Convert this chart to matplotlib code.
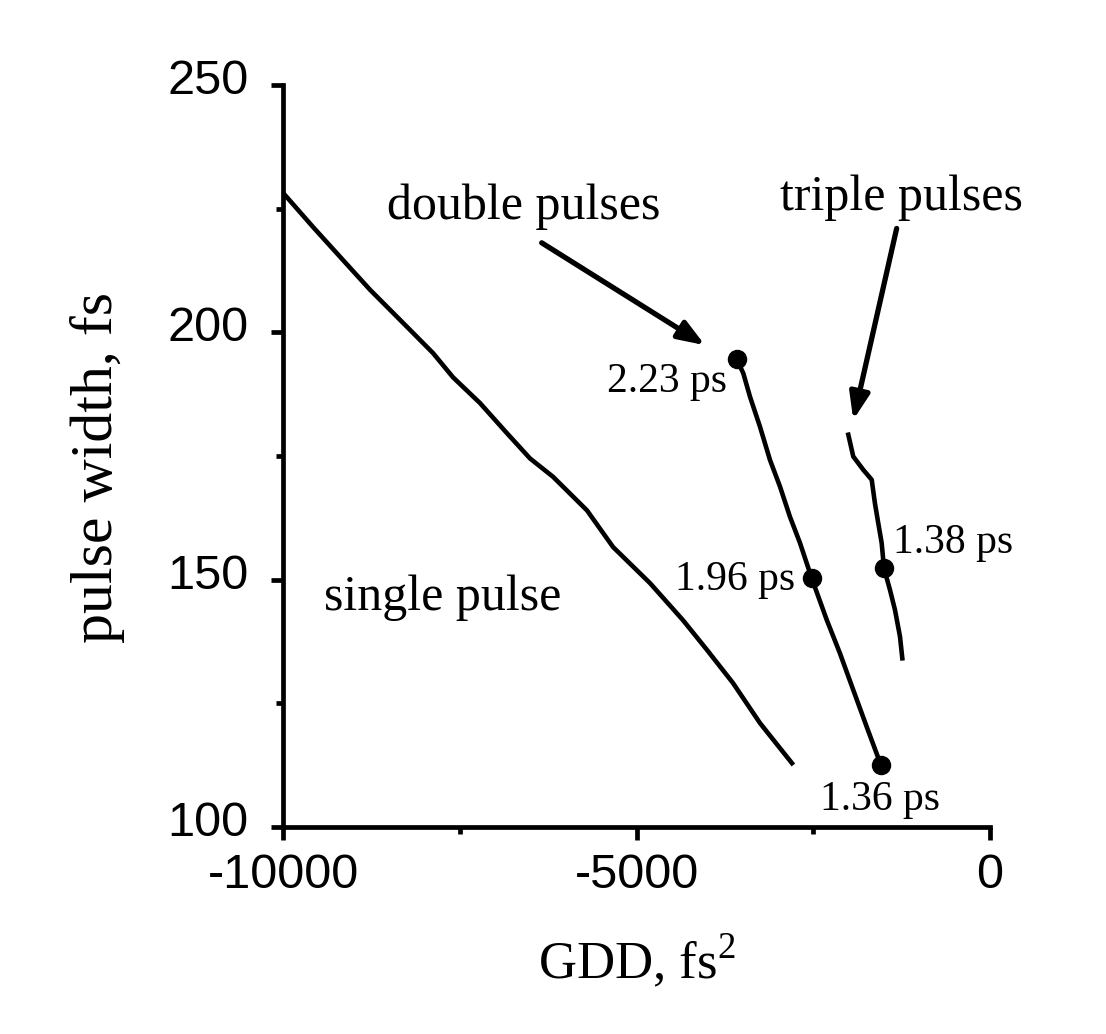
import matplotlib
matplotlib.use("Agg")
import matplotlib.pyplot as plt
import matplotlib.transforms as mtransforms
from matplotlib.ticker import MultipleLocator

plt.rcParams["mathtext.fontset"] = "custom"
plt.rcParams["mathtext.rm"] = "Liberation Serif"
plt.rcParams["axes.unicode_minus"] = False

# single pulse boundary
single_gdd = [-10000, -9576, -9151, -8769, -8246, -7878, -7595, -7214, -6832, -6506,
              -6181, -5700, -5332, -4809, -4342, -4003, -3635, -3253, -2801]
single_width = [228.2, 221.3, 214.6, 208.6, 201.1, 195.8, 190.9, 185.7, 179.6, 174.5,
                170.8, 164.0, 156.6, 149.3, 141.8, 135.8, 129.1, 121.0, 112.9]

# double pulses boundary
double_gdd = [-3583, -3489, -3395, -3253, -3112, -2970, -2829, -2687, -2522, -2310,
              -2122, -1934, -1745, -1542]
double_width = [194.6, 191.7, 187.0, 180.9, 174.2, 168.8, 162.7, 157.4, 150.3, 141.9,
                135.1, 127.7, 120.3, 112.5]

# triple pulses boundary
triple_gdd = [-2004, -1934, -1792, -1673, -1627, -1580, -1532, -1499, -1414, -1344,
              -1273, -1240]
triple_width = [179.3, 174.9, 172.2, 170.2, 165.4, 161.4, 157.4, 152.3, 147.9, 143.9,
                138.5, 134.1]

# marked points with pulse separation labels
dot_gdd = [-3583, -2522, -1542, -1499]
dot_width = [194.6, 150.3, 112.5, 152.3]
dot_labels = ["2.23 ps", "1.96 ps", "1.36 ps", "1.38 ps"]

serif = "Liberation Serif"
sans = "Liberation Sans"

fig = plt.figure(figsize=(11.06, 10.34), dpi=100)
ax = fig.add_axes([0.2559, 0.2002, 0.6392, 0.7176])

lw = 3.3
ax.plot(single_gdd, single_width, color="black", lw=lw)
ax.plot(double_gdd, double_width, color="black", lw=lw)
ax.plot(triple_gdd, triple_width, color="black", lw=lw)
ax.plot(dot_gdd, dot_width, "o", color="black", ms=13, ls="none")

# dot labels
ax.text(-3720, 190.0, dot_labels[0], ha="right", va="center", fontsize=30, family=serif)
ax.text(-2758, 149.9, dot_labels[1], ha="right", va="center", fontsize=30, family=serif)
ax.text(-1556, 105.5, dot_labels[2], ha="center", va="center", fontsize=30, family=serif)
ax.text(-1372, 157.4, dot_labels[3], ha="left", va="center", fontsize=30, family=serif)

# region labels
ax.text(-6591, 225.3, "double pulses", ha="center", va="center", fontsize=36, family=serif)
ax.text(-1259, 227.2, "triple pulses", ha="center", va="center", fontsize=36, family=serif)
ax.text(-7737, 146.3, "single pulse", ha="center", va="center", fontsize=36, family=serif)

arrow = dict(arrowstyle="-|>,head_length=1.6,head_width=0.6", color="black", lw=3.8,
             shrinkA=0, shrinkB=0)
ax.annotate("", xy=(-4031, 197.4), xytext=(-6341, 218.1), arrowprops=arrow)
ax.annotate("", xy=(-1934, 182.3), xytext=(-1320, 221.0), arrowprops=arrow)

ax.set_xlim(-10000, 0)
ax.set_ylim(100, 250)
ax.xaxis.set_major_locator(MultipleLocator(5000))
ax.xaxis.set_minor_locator(MultipleLocator(2500))
ax.yaxis.set_major_locator(MultipleLocator(50))
ax.yaxis.set_minor_locator(MultipleLocator(25))

for side in ["top", "right"]:
    ax.spines[side].set_visible(False)
for side in ["left", "bottom"]:
    ax.spines[side].set_linewidth(3.4)

ax.tick_params(which="major", direction="out", length=9, width=3.4)
ax.tick_params(which="minor", direction="out", length=5, width=3.4)
ax.tick_params(axis="x", which="major", pad=10)
ax.tick_params(axis="y", which="major", pad=16)
for lab in ax.get_xticklabels() + ax.get_yticklabels():
    lab.set_fontfamily(sans)
    lab.set_fontsize(35)

# y tick labels sit slightly above their ticks in the original
shift_up = mtransforms.ScaledTranslation(0, 6 / 72, fig.dpi_scale_trans)
for lab in ax.get_yticklabels():
    lab.set_transform(lab.get_transform() + shift_up)

ax.set_xlabel("GDD, fs$^{2}$", fontsize=38, family=serif, labelpad=24)
ax.set_ylabel("pulse width, fs", fontsize=43, family=serif)
ax.yaxis.set_label_coords(-0.2235, 0.484)

fig.savefig("out.png", dpi=100)
